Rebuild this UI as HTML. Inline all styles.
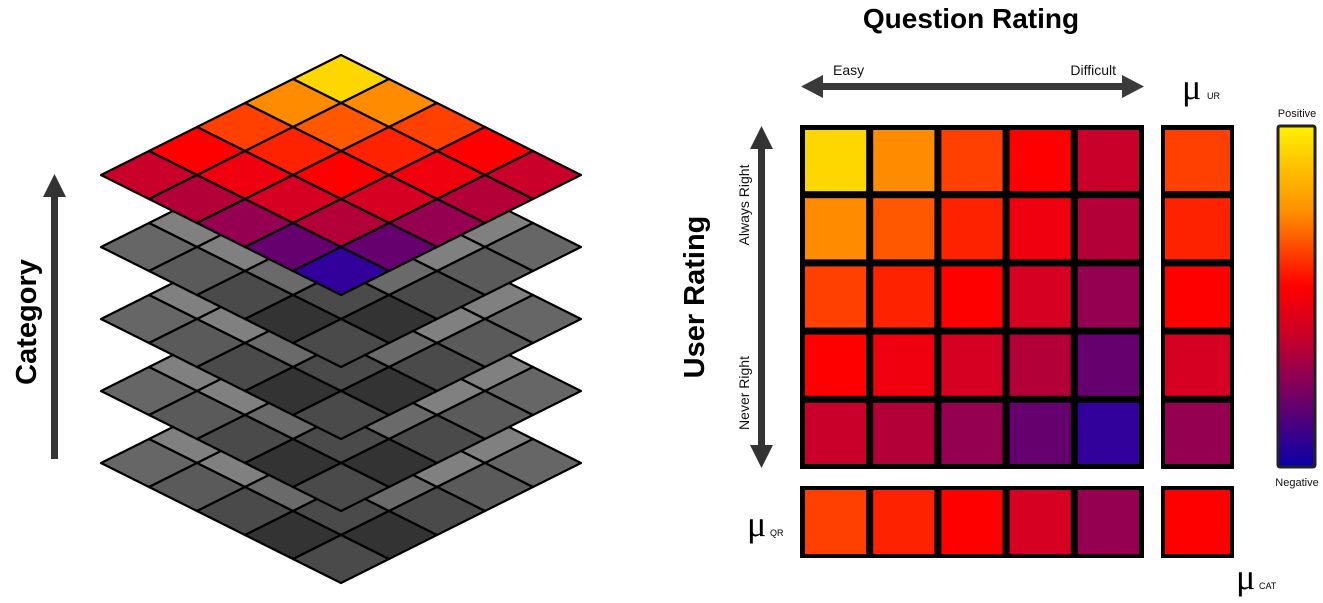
<!DOCTYPE html>
<html><head><meta charset="utf-8">
<style>
html,body{margin:0;padding:0;background:#fff;}
svg{display:block;font-family:"Liberation Sans",sans-serif;}
</style></head>
<body>
<svg id="fig" width="1323" height="603" viewBox="0 0 1323 603">
<defs>
<linearGradient id="cbar" x1="0" y1="0" x2="0" y2="1">
<stop offset="0" stop-color="#FFF000"/>
<stop offset="0.25" stop-color="#FF9000"/>
<stop offset="0.47" stop-color="#FF0000"/>
<stop offset="0.62" stop-color="#C8002A"/>
<stop offset="0.78" stop-color="#780060"/>
<stop offset="1" stop-color="#0A00A8"/>
</linearGradient>
</defs>
<g id="iso"></g>
<g id="heat"></g>

<g>
<rect x="51" y="195" width="7" height="264" fill="#333"/>
<polygon points="54.5,174 43,197 66,197" fill="#333"/>
<text x="0" y="0" transform="translate(36,322) rotate(-90)" text-anchor="middle" font-size="29" font-weight="bold" fill="#000">Category</text>
</g>

<text x="971" y="28" text-anchor="middle" font-size="28" font-weight="bold" fill="#000">Question Rating</text>
<g>
<rect x="820" y="83" width="306" height="7" fill="#3a3a3a"/>
<polygon points="801,86.5 823,75 823,98" fill="#3a3a3a"/>
<polygon points="1144,86.5 1122,75 1122,98" fill="#3a3a3a"/>
</g>
<text x="833" y="75" font-size="14" fill="#111">Easy</text>
<text x="1116" y="75" text-anchor="end" font-size="14" fill="#111">Difficult</text>

<text x="0" y="0" transform="translate(704,297) rotate(-90)" text-anchor="middle" font-size="29" font-weight="bold" fill="#000">User Rating</text>
<g>
<rect x="758" y="146" width="7" height="302" fill="#333"/>
<polygon points="761.5,126 750,149 773,149" fill="#333"/>
<polygon points="761.5,468 750,445 773,445" fill="#333"/>
</g>
<text x="0" y="0" transform="translate(749,205) rotate(-90)" text-anchor="middle" font-size="14" fill="#111">Always Right</text>
<text x="0" y="0" transform="translate(749,393) rotate(-90)" text-anchor="middle" font-size="14" fill="#111">Never Right</text>

<g><text x="1182" y="99" font-family="Liberation Serif,serif" font-size="36" fill="#000">μ</text><text x="1207" y="99" font-size="9" fill="#000">UR</text></g>
<g><text x="747" y="536" font-family="Liberation Serif,serif" font-size="36" fill="#000">μ</text><text x="770" y="536" font-size="9" fill="#000">QR</text></g>
<g><text x="1236" y="589" font-family="Liberation Serif,serif" font-size="36" fill="#000">μ</text><text x="1259" y="589" font-size="9" fill="#000">CAT</text></g>

<g>
<rect x="1278" y="126" width="37" height="341" rx="2" fill="url(#cbar)" stroke="#222" stroke-width="3"/>
<text x="1297" y="117" text-anchor="middle" font-size="11" fill="#111">Positive</text>
<text x="1297" y="486" text-anchor="middle" font-size="11" fill="#111">Negative</text>
</g>
</svg>
<script>
const levelColors = ["#32009A","#66006E","#960050","#B40038","#C8002A","#D60022","#F0000F","#FF0000","#FF2200","#FF4000","#FF5800","#FF8C00","#FFD700"];
const rowLabels = ["UR1","UR2","UR3","UR4","UR5"];
const colLabels = ["QR1","QR2","QR3","QR4","QR5"];
const row0 = [12,11,9,7,4];
const row1 = [11,10,8,6,3];
const row2 = [9,8,7,5,2];
const row3 = [7,6,5,3,1];
const row4 = [4,3,2,1,0];
const grid = [row0,row1,row2,row3,row4];
const muUR = [9,8,7,5,2];
const muQR = [9,8,7,5,2];
const muCAT = [7];
const grayRow0 = [0x66,0x5a,0x5a,0x80,0x66];
const grayRow1 = [0x5a,0x4a,0x4a,0x80,0x5a];
const grayRow2 = [0x5a,0x4a,0x33,0x6a,0x4a];
const grayRow3 = [0x80,0x80,0x6a,0x4a,0x33];
const grayRow4 = [0x66,0x5a,0x4a,0x33,0x4a];
const grayGrid = [grayRow0,grayRow1,grayRow2,grayRow3,grayRow4];
const layerCount = 5;

const NS = "http://www.w3.org/2000/svg";
function mk(tag, attrs, parent){const e=document.createElementNS(NS,tag);for(const k in attrs)e.setAttribute(k,attrs[k]);parent.appendChild(e);return e;}
function col(v){return levelColors[Math.max(0,Math.min(levelColors.length-1,Math.round(v)))];}
function gray(g){const h=g.toString(16).padStart(2,"0");return "#"+h+h+h;}

const hx0=801, hy0=126, pitch=68.2;
function xPos(c){return hx0+c*pitch;}
function yPos(r){return hy0+r*pitch;}
const heat=document.getElementById("heat");

function frame(x,y,w,h,name){
  const f=mk("rect",{x:x,y:y,width:w,height:h,fill:"#000"},heat);
  
  
}
frame(hx0-1,hy0-1,5*pitch+3,5*pitch+3,"main-grid-frame");
frame(1161,hy0-1,73,5*pitch+3,"mu-ur-frame");
frame(hx0-1,486,5*pitch+3,72,"mu-qr-frame");
frame(1161,486,73,72,"mu-cat-frame");

grid.forEach((row,r)=>row.forEach((v,c)=>{
  const e=mk("rect",{x:xPos(c)+4,y:yPos(r)+4,width:pitch-7,height:pitch-7,fill:col(v)},heat);
  
  
}));
muUR.forEach((v,r)=>{
  const e=mk("rect",{x:1165,y:yPos(r)+4,width:65,height:pitch-7,fill:col(v)},heat);
  
  
});
muQR.forEach((v,c)=>{
  const e=mk("rect",{x:xPos(c)+4,y:490,width:pitch-7,height:64,fill:col(v)},heat);
  
  
});
muCAT.forEach(v=>{
  const e=mk("rect",{x:1165,y:490,width:65,height:64,fill:col(v)},heat);
  
  
});

const iso=document.getElementById("iso");
const cx=341, topY=55, hw=48, hh=24, layerGap=72;
function isoPt(r,c,base){return [cx+(c-r)*hw, base+(c+r)*hh];}
for(let L=layerCount-1; L>=0; L--){
  const base=topY+L*layerGap;
  const g=mk("g",{},iso);
  
  
  for(let r=0;r<5;r++)for(let c=0;c<5;c++){
    const p=[isoPt(r,c,base),isoPt(r,c+1,base),isoPt(r+1,c+1,base),isoPt(r+1,c,base)];
    const fill = L===0 ? col(grid[r][c]) : gray(grayGrid[r][c]);
    const e=mk("polygon",{points:p.map(q=>q.join(",")).join(" "),fill:fill,stroke:"#000","stroke-width":2.2,"stroke-linejoin":"round"},g);
    
    
  }
}
</script>
</body></html>
